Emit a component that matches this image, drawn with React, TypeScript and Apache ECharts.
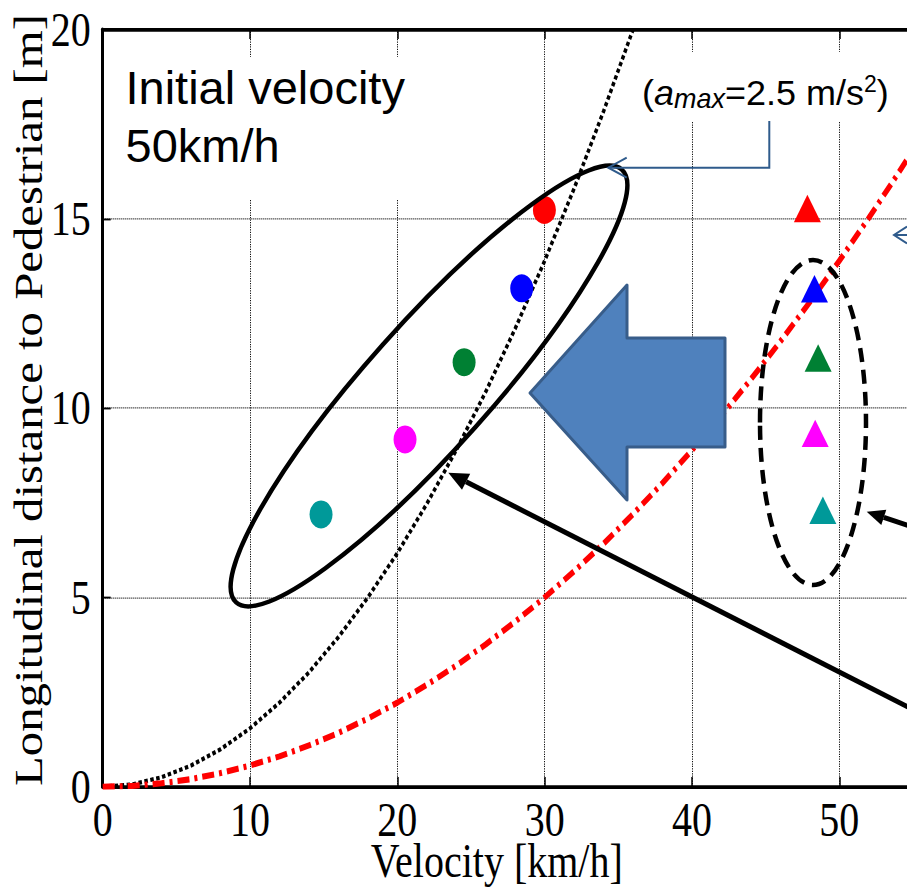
import React, { useEffect, useRef } from 'react';
import * as echarts from 'echarts';

// ---- data ----
const xTicks = [0, 10, 20, 30, 40, 50, 60];
const yTicks = [0, 5, 10, 15, 20];

// black dotted curve (a_max = 2.5 m/s^2)
const velocityDotted = [0, 2, 4, 6, 8, 10, 12, 14, 16, 18, 20, 22, 24, 26, 28, 30, 32, 34, 36];
const distanceDotted = [0, 0.06, 0.25, 0.56, 0.99, 1.54, 2.22, 3.02, 3.95, 5.0, 6.17, 7.47, 8.89, 10.43, 12.1, 13.89, 15.8, 17.84, 20.0];

// red dash-dot curve
const velocityRed = [0, 2, 4, 6, 8, 10, 12, 14, 16, 18, 20, 22, 24, 26, 28, 30, 32, 34, 36, 38, 40, 42, 44, 46, 48, 50, 52, 54, 56];
const distanceRed = [0, 0.02, 0.09, 0.2, 0.36, 0.56, 0.8, 1.09, 1.42, 1.8, 2.22, 2.69, 3.2, 3.76, 4.36, 5.0, 5.69, 6.42, 7.2, 8.02, 8.89, 9.8, 10.76, 11.76, 12.8, 13.89, 15.02, 16.2, 17.42];

// markers
const markerColors = ['#ff0000', '#0000ff', '#008033', '#ff00ff', '#009999'];
const circleVelocity = [29.98, 28.44, 24.53, 20.52, 14.82];
const circleDistance = [15.23, 13.16, 11.21, 9.17, 7.19];
const triangleVelocity = [47.83, 48.31, 48.56, 48.36, 48.88];
const triangleDistance = [15.27, 13.15, 11.32, 9.33, 7.3];

const xName = 'Velocity [km/h]';
const yName = 'Longitudinal distance to Pedestrian [m]';
const note1 = 'Initial velocity\n50km/h';

// ---- layout ----
const S = 889 / 729; // vertical stretch of the figure
const CH = 729;
const CW = 1000;
const py = (y: number) => y / S;
const serif = '"Liberation Serif", "Times New Roman", serif';
const sans = '"Liberation Sans", Arial, sans-serif';
const blue = '#2f5b8c';

export default function App() {
  const ref = useRef<HTMLDivElement>(null);

  useEffect(() => {
    if (!ref.current) return;
    const chart = echarts.init(ref.current, null, { renderer: 'svg' });

    const axisLine = { show: true, onZero: false, lineStyle: { color: '#000', width: 3 } };
    const axisTick = { show: true, inside: true, length: 8, lineStyle: { color: '#000', width: 1.5 } };
    const splitLine = { show: true, lineStyle: { color: '#111', width: 1, type: [1, 1] } };

    const arrowLong = { tip: [448.3, 472.7], base: [466.1, 481.8], c1: [470.2, 473.8], c2: [462.0, 489.8], tail: [1000, 754] };
    const arrowShort = { tip: [866.7, 511.7], base: [883.8, 517.4], c1: [886.3, 509.8], c2: [881.3, 525.0], tail: [960, 542.7] };

    const overlayChildren: any[] = [
      { type: 'rect', shape: { x: 112, y: 57, width: 333, height: 143 }, style: { fill: '#fff' }, z: 100 },
      {
        type: 'text', x: 125.5, y: 59, z: 101,
        style: { text: note1, fontSize: 47, fontFamily: sans, fill: '#000', lineHeight: 58, verticalAlign: 'top', align: 'left' },
      },
      { type: 'rect', shape: { x: 632, y: 52, width: 265, height: 69 }, style: { fill: '#fff' }, z: 100 },
      {
        type: 'text', x: 642, y: 73, z: 101,
        style: {
          text: '{p|(}{i|a}{s|max}{p|=2.5 m/s}{u|2}{p|)}',
          verticalAlign: 'top',
          align: 'left',
          rich: {
            p: { fontSize: 36, fontFamily: sans, fill: '#000', lineHeight: 40, verticalAlign: 'middle' },
            i: { fontSize: 36, fontFamily: sans, fontStyle: 'italic', fill: '#000', lineHeight: 40, verticalAlign: 'middle' },
            s: { fontSize: 27, fontFamily: sans, fontStyle: 'italic', fill: '#000', lineHeight: 12, verticalAlign: 'bottom' },
            u: { fontSize: 23, fontFamily: sans, fill: '#000', lineHeight: 25, verticalAlign: 'top' },
          },
        },
      },
      {
        type: 'polygon', z: 100,
        shape: { points: [[530, 393], [627, 285], [627, 338], [725, 338], [725, 447], [627, 447], [627, 500]] },
        style: { fill: '#4f81bd', stroke: '#385d8a', lineWidth: 3, lineJoin: 'round' },
      },
      {
        type: 'ellipse', x: 429, y: 386, rotation: (48.3 * Math.PI) / 180, z: 102,
        shape: { cx: 0, cy: 0, rx: 290, ry: 62 },
        style: { fill: 'none', stroke: '#000', lineWidth: 4.5 },
      },
      {
        type: 'ellipse', z: 102,
        shape: { cx: 813, cy: 422.5, rx: 53, ry: 162.5 },
        style: { fill: 'none', stroke: '#000', lineWidth: 4.5, lineDash: [14, 8] },
      },
      ...[arrowLong, arrowShort].flatMap((a) => [
        { type: 'line', z: 102, shape: { x1: a.tail[0], y1: a.tail[1], x2: a.base[0], y2: a.base[1] }, style: { stroke: '#000', lineWidth: 5 } },
        { type: 'polygon', z: 102, shape: { points: [a.tip, a.c1, a.c2] }, style: { fill: '#000' } },
      ]),
      { type: 'polyline', z: 102, shape: { points: [[769.3, 121], [769.3, 167.7], [608.3, 167.7]] }, style: { fill: 'none', stroke: blue, lineWidth: 2 } },
      { type: 'polyline', z: 102, shape: { points: [[626.7, 157.7], [608.3, 167.7], [626.7, 177.7]] }, style: { fill: 'none', stroke: blue, lineWidth: 2 } },
      { type: 'polyline', z: 102, shape: { points: [[907, 226.5], [894, 235], [907, 243.5]] }, style: { fill: 'none', stroke: blue, lineWidth: 2 } },
      { type: 'line', z: 102, shape: { x1: 894, y1: 235, x2: 910, y2: 235 }, style: { stroke: blue, lineWidth: 2 } },
    ];

    chart.setOption({
      animation: false,
      backgroundColor: '#fff',
      grid: {
        left: 102.7, top: py(29.3), width: 884, height: py(786.7) - py(29.3),
        containLabel: false, outerBoundsMode: 'none',
      },
      xAxis: [
        {
          type: 'value', position: 'bottom',
          min: xTicks[0], max: xTicks[xTicks.length - 1], interval: xTicks[1] - xTicks[0],
          axisLine, axisTick, splitLine,
          axisLabel: { color: '#000', fontFamily: serif, fontSize: 40, lineHeight: 34, margin: 10, showMaxLabel: false },
          name: xName, nameLocation: 'middle', nameGap: 45, nameMoveOverlap: false,
          nameTextStyle: { color: '#000', fontFamily: serif, fontSize: 40, lineHeight: 32, padding: [0, 96, 0, 0] },
        },
        {
          type: 'value', position: 'top',
          min: xTicks[0], max: xTicks[xTicks.length - 1], interval: xTicks[1] - xTicks[0],
          axisLine, axisTick, splitLine: { show: false }, axisLabel: { show: false },
        },
      ],
      yAxis: {
        type: 'value',
        min: yTicks[0], max: yTicks[yTicks.length - 1], interval: yTicks[1] - yTicks[0],
        axisLine, axisTick, splitLine,
        axisLabel: { color: '#000', fontFamily: serif, fontSize: 40, margin: 12 },
        name: yName, nameLocation: 'middle', nameGap: 54, nameMoveOverlap: false,
        nameTextStyle: { color: '#000', fontFamily: serif, fontSize: 40, padding: [0, 0, 0, 13] },
      },
      series: [
        {
          type: 'line', xAxisIndex: 0, symbol: 'none', z: 3,
          data: velocityDotted.map((v, i) => [v, distanceDotted[i]]),
          lineStyle: { color: '#000', width: 3.5, type: [3.5, 2.5] },
        },
        {
          type: 'line', xAxisIndex: 0, symbol: 'none', z: 3,
          data: velocityRed.map((v, i) => [v, distanceRed[i]]),
          lineStyle: { color: '#ff0000', width: 5, type: [12, 5, 3, 5] },
        },
        {
          type: 'scatter', xAxisIndex: 0, symbol: 'circle', symbolSize: [23, 23], z: 4,
          data: circleVelocity.map((v, i) => ({ value: [v, circleDistance[i]], itemStyle: { color: markerColors[i], opacity: 1 } })),
        },
        {
          type: 'scatter', xAxisIndex: 0, symbol: 'triangle', symbolSize: [27, 22.5], z: 4,
          data: triangleVelocity.map((v, i) => ({ value: [v, triangleDistance[i]], itemStyle: { color: markerColors[i], opacity: 1 } })),
        },
      ],
      graphic: [{ type: 'group', x: 0, y: 0, scaleY: 1 / S, children: overlayChildren }],
    });

    return () => chart.dispose();
  }, []);

  return (
    <div style={{ position: 'fixed', left: 0, top: 0, width: 907, height: 889, overflow: 'hidden', background: '#fff' }}>
      <div ref={ref} style={{ width: CW, height: CH, transform: `scaleY(${S})`, transformOrigin: '0 0' }} />
    </div>
  );
}
